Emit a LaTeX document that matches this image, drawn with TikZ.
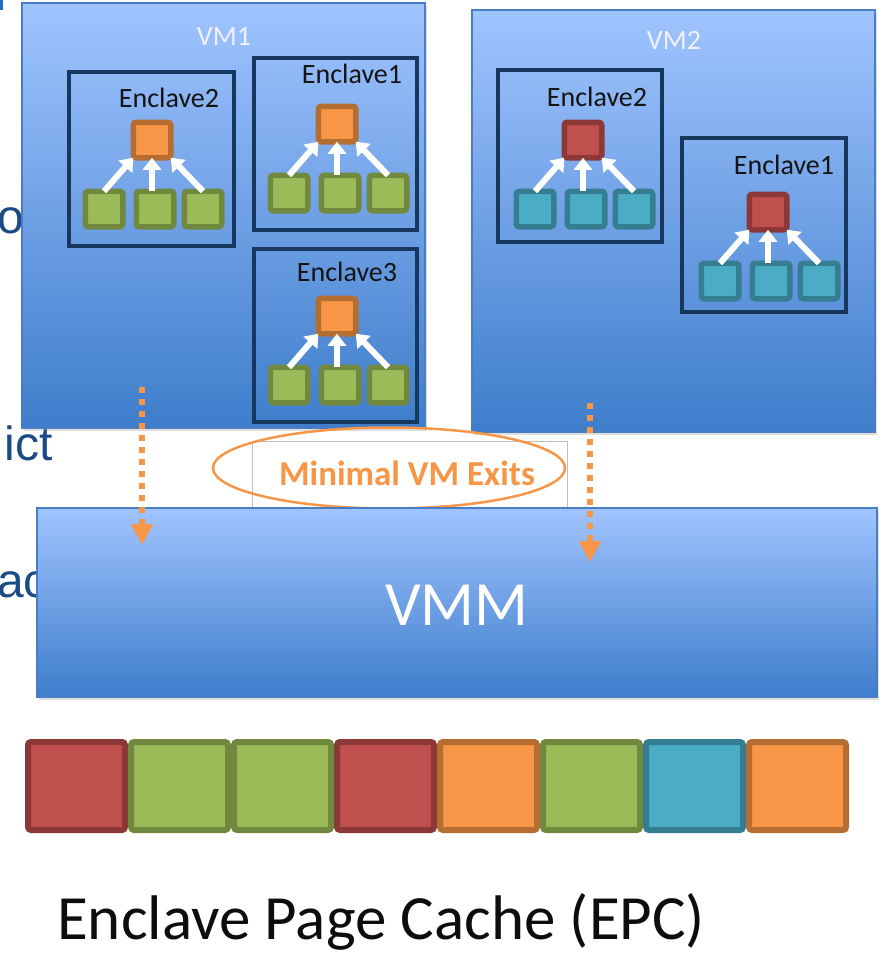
\documentclass[tikz,border=0pt]{standalone}
\usepackage{fontspec}
\setmainfont{Carlito}
\newfontfamily\sidefont{Liberation Sans}
\usetikzlibrary{arrows.meta,shadows,shapes.geometric}

\definecolor{vmtop}{RGB}{160,196,255}
\definecolor{vmbot}{RGB}{62,125,203}
\definecolor{vmedge}{RGB}{74,126,196}
\definecolor{navy}{RGB}{23,55,94}
\definecolor{redfill}{RGB}{192,80,77}
\definecolor{redline}{RGB}{140,56,54}
\definecolor{grnfill}{RGB}{155,187,89}
\definecolor{grnline}{RGB}{113,137,63}
\definecolor{orgfill}{RGB}{247,150,70}
\definecolor{orgline}{RGB}{182,109,49}
\definecolor{tealfill}{RGB}{75,172,198}
\definecolor{tealline}{RGB}{53,125,145}
\definecolor{exitorange}{RGB}{246,150,70}
\definecolor{sideblue}{RGB}{27,75,135}
\definecolor{markblue}{RGB}{30,110,200}

\tikzset{
  vmbox/.style={draw=vmedge, line width=1.5pt, top color=vmtop, bottom color=vmbot,
    inner sep=0pt, outer sep=0pt,
    drop shadow={shadow xshift=1.5pt, shadow yshift=-2.5pt, opacity=0.25}},
  enclbox/.style={draw=navy, line width=4pt, inner sep=0pt, outer sep=0pt},
  page/.style={line width=5.5pt, rounded corners=3pt, inner sep=0pt, outer sep=0pt,
    minimum width=37.5pt, minimum height=35.5pt},
  orgpage/.style={page, draw=orgline, fill=orgfill},
  redpage/.style={page, draw=redline, fill=redfill},
  grnpage/.style={page, draw=grnline, fill=grnfill},
  tealpage/.style={page, draw=tealline, fill=tealfill},
  epccell/.style={line width=6pt, rounded corners=3pt, inner sep=0pt, outer sep=0pt,
    minimum width=97pt, minimum height=88pt},
  feed/.style={draw=white, line width=6pt, -{Triangle[width=18pt,length=12pt]}},
  exitflow/.style={draw=exitorange, line width=5.5pt, dash pattern=on 6pt off 6pt,
    -{Triangle[width=21pt,length=21pt]}},
  vmlabel/.style={anchor=base, text=white!94!blue, font=\fontsize{28}{28}\selectfont},
  encllabel/.style={anchor=base, text=black!92, font=\fontsize{28}{28}\selectfont},
  sidetxt/.style={text=sideblue, inner sep=0pt, font=\sidefont\fontsize{48}{48}\selectfont},
}

% one enclave: a parent page fed by three child pages
\newcommand\enclavetree[5]{%
  \node[#4] (#1top) at (#2,#3) {};
  \node[#5, xshift=-48pt, yshift=-69pt] (#1a) at (#2,#3) {};
  \node[#5, xshift=3pt,   yshift=-69pt] (#1b) at (#2,#3) {};
  \node[#5, xshift=51pt,  yshift=-69pt] (#1c) at (#2,#3) {};
  \draw[feed] (#1a.north) -- (#1top.south west);
  \draw[feed] (#1b.north -| #1top.south) -- (#1top.south);
  \draw[feed] (#1c.north) -- (#1top.south east);
}

\begin{document}
\begin{tikzpicture}[x=1pt, y=-1pt]
\useasboundingbox (0,0) rectangle (887,953);
\clip (0,0) rectangle (887,953);

% text fragments along the left edge
\fill[markblue] (0,0) rectangle (3,10);
\node[sidetxt, anchor=base east] (frago) at (24,233) {o};
\node[sidetxt, anchor=base east] (fragict) at (53,460) {ict};
\node[sidetxt, anchor=base west] (fragac) at (-3,597) {ac};

% virtual machines
\node[vmbox, minimum width=403pt, minimum height=425pt] (vm1) at (223.5,215.5) {};
\node[vmbox, minimum width=403pt, minimum height=422pt] (vm2) at (673.5,221) {};
\node[vmlabel] (vm1label) at (224,45) {VM1};
\node[vmlabel] (vm2label) at (674,49) {VM2};

% enclaves of VM1
\node[enclbox, minimum width=165pt, minimum height=174pt] (v1e2) at (151.5,159) {};
\node[enclbox, minimum width=163pt, minimum height=172pt] (v1e1) at (335.5,144) {};
\node[enclbox, minimum width=163pt, minimum height=173pt] (v1e3) at (335.5,335.5) {};
\node[encllabel] (v1e2label) at (169,107) {Enclave2};
\node[encllabel] (v1e1label) at (352,83) {Enclave1};
\node[encllabel] (v1e3label) at (347,281) {Enclave3};
\enclavetree{vae}{152}{140}{orgpage}{grnpage}
\enclavetree{vaf}{337}{124}{orgpage}{grnpage}
\enclavetree{vag}{337}{316}{orgpage}{grnpage}

% enclaves of VM2
\node[enclbox, minimum width=164pt, minimum height=172pt] (v2e2) at (580,156) {};
\node[enclbox, minimum width=164pt, minimum height=174pt] (v2e1) at (764,225) {};
\node[encllabel] (v2e2label) at (597,106) {Enclave2};
\node[encllabel] (v2e1label) at (784,174) {Enclave1};
\enclavetree{vbe}{583}{140}{redpage}{tealpage}
\enclavetree{vbf}{768}{212}{redpage}{tealpage}

% minimal VM exits callout
\node[draw=black!25, line width=0.6pt, fill=white, inner sep=0pt,
      minimum width=315pt, minimum height=67pt] (exitbox) at (409.5,474.5) {};
\node[draw=exitorange, line width=2.5pt, ellipse, inner sep=0pt,
      minimum width=352pt, minimum height=81pt] (exitring) at (389,468) {};
\node[anchor=base, text=exitorange, font=\bfseries\fontsize{35}{35}\selectfont]
      (exittext) at (407,485) {Minimal VM Exits};

% hypervisor
\node[vmbox, minimum width=840pt, minimum height=189pt] (vmm) at (457,602.5) {};
\node[anchor=base, text=white, font=\fontsize{63}{63}\selectfont] (vmmlabel) at (457,625) {VMM};

% exits from each VM into the VMM
\coordinate (exitastart) at (142,387);
\coordinate (exitaend) at (142,545);
\coordinate (exitbstart) at (590,403);
\coordinate (exitbend) at (590,562);
\draw[exitflow] (exitastart) -- (exitaend);
\draw[exitflow] (exitbstart) -- (exitbend);

% enclave page cache
\foreach \s [count=\i] in {red,grn,grn,red,org,grn,teal,org}
  \node[epccell, draw=\s line, fill=\s fill] (epc\i) at ({76.5+103*(\i-1)},786) {};
\node[anchor=base west, inner sep=0pt, text=black!95, font=\fontsize{63}{63}\selectfont]
      (epclabel) at (57,939) {Enclave Page Cache (EPC)};
\end{tikzpicture}
\end{document}
